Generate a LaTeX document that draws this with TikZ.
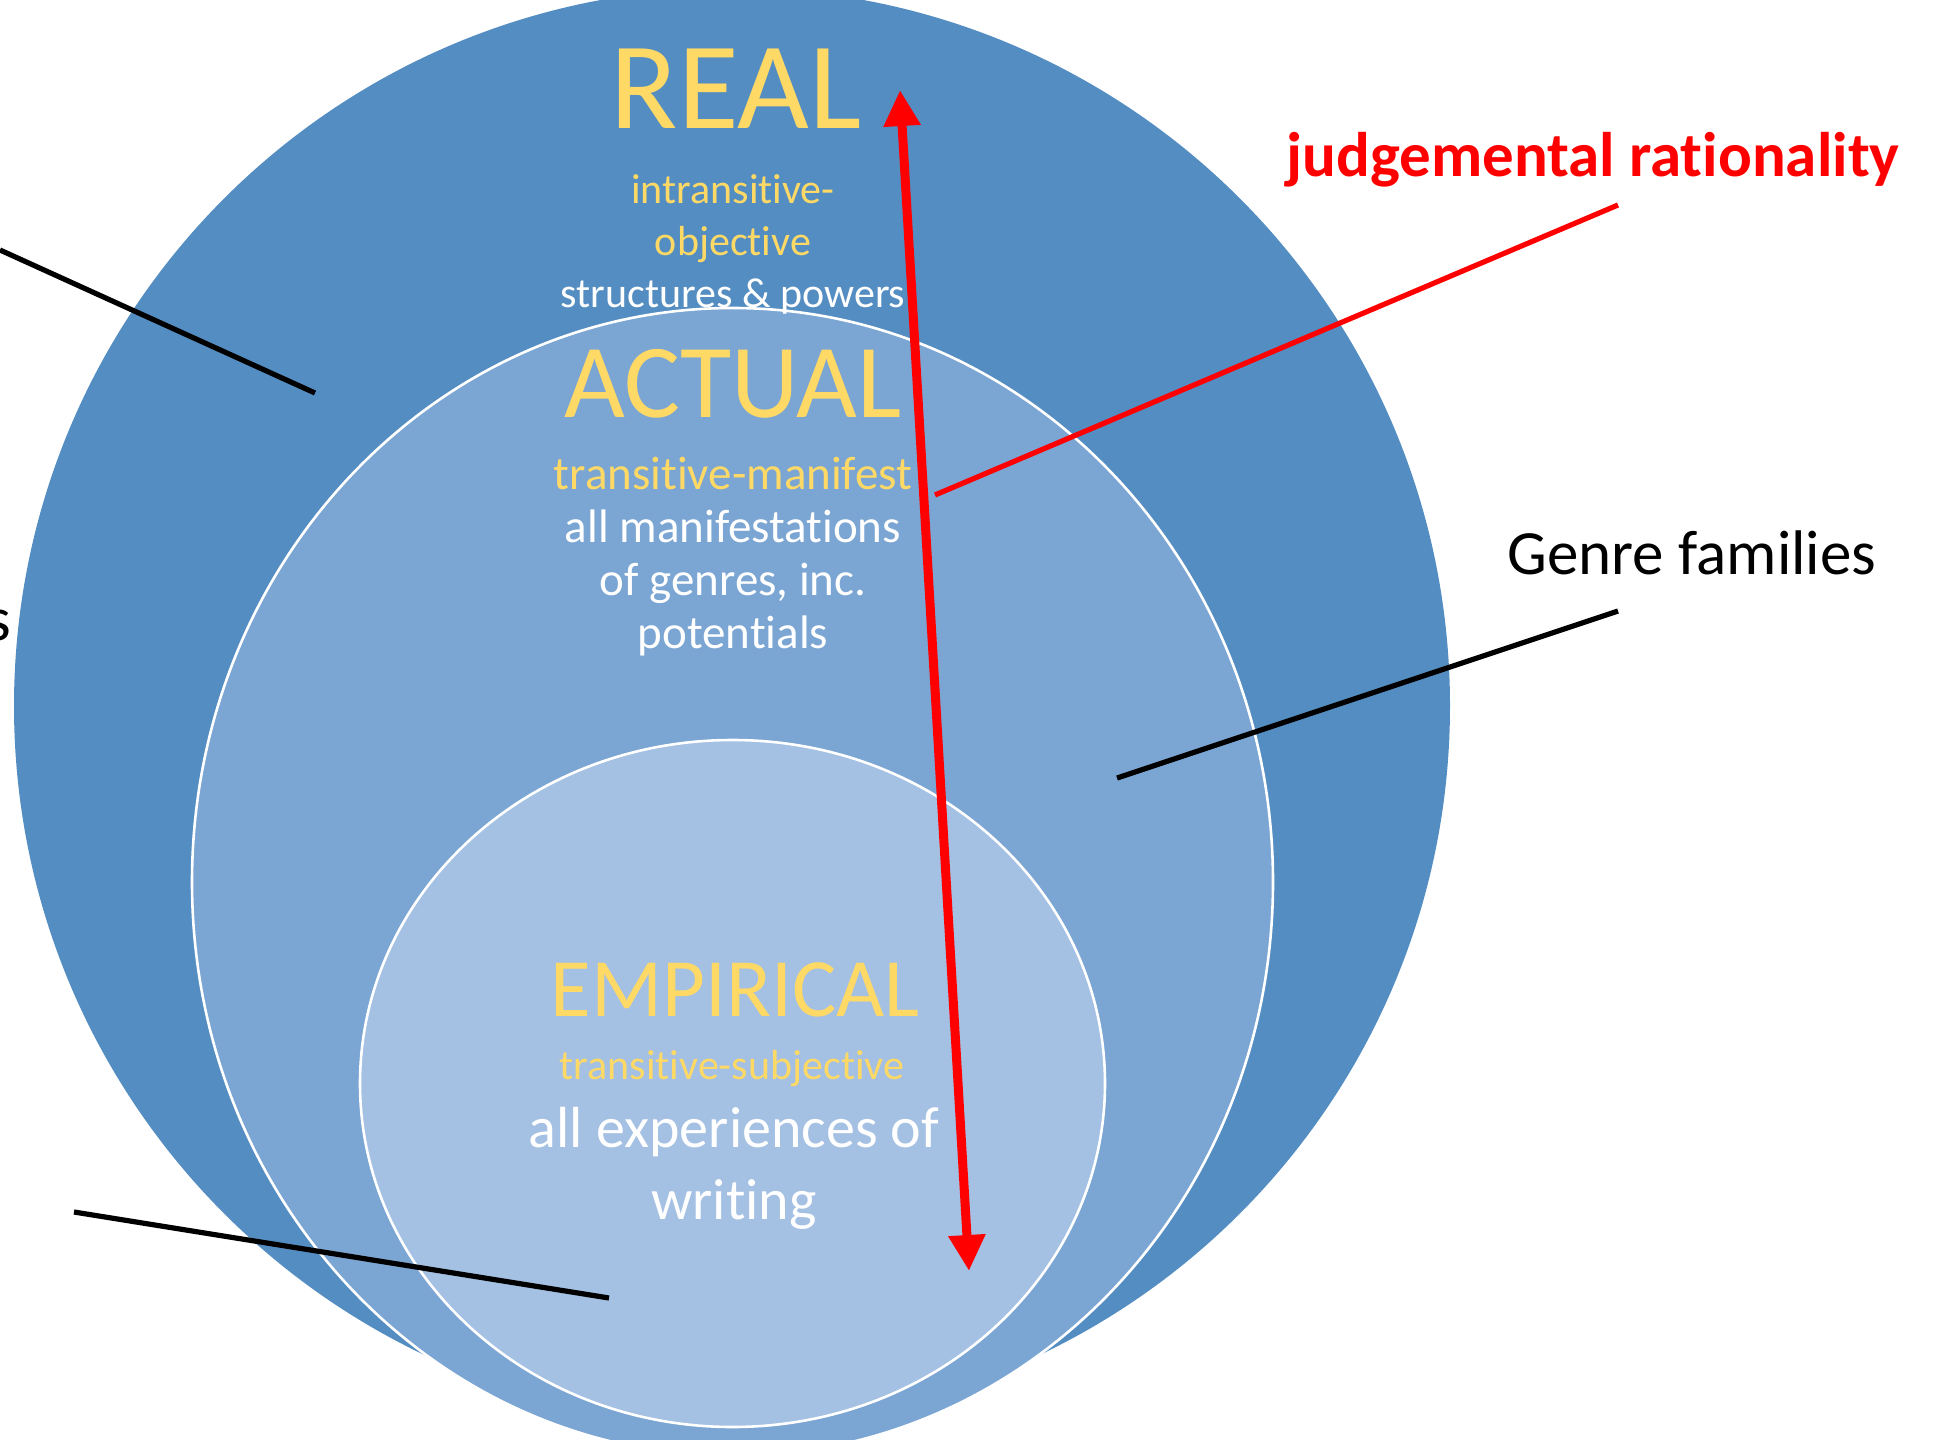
\documentclass[tikz,border=0pt]{standalone}
\usepackage{fontspec}
\setmainfont{Carlito}[Ligatures=NoCommon, RawFeature={-liga;-clig;-calt;-dlig}]
\usetikzlibrary{arrows.meta}
\definecolor{realblue}{HTML}{548DC1}
\definecolor{actualblue}{HTML}{7BA5D2}
\definecolor{empblue}{HTML}{A4C0E3}
\definecolor{gold}{HTML}{FFD966}
\begin{document}
\begin{tikzpicture}[x=0.5pt, y=-0.5pt,
  every node/.style={inner sep=0pt, anchor=base, align=center},
  zone/.style={draw=white, line width=1.3pt},
  head/.style={text=gold},
  leader/.style={draw=black, line width=2.6pt},
  judge/.style={draw=red, line width=2.6pt}]
\clip (0,0) rectangle (1934,1440);
\fill[realblue] (732,706) circle[radius=359pt];
\filldraw[zone, fill=actualblue] (732.5,882) ellipse[x radius=270.25pt, y radius=287pt];
\filldraw[zone, fill=empblue] (732.5,1083.5) ellipse[x radius=186.25pt, y radius=171.75pt];
\node[head, font=\fontsize{62}{74}\selectfont] (real) at (736,128) {REAL};
\node[font=\fontsize{21}{26}\selectfont] (realsub) at (733,307) {\textcolor{gold}{intransitive-}\\\textcolor{gold}{objective}\\\textcolor{white}{structures \& powers}};
\node[head, font=\fontsize{52.5}{63}\selectfont] (actual) at (733,417) {ACTUAL};
\node[font=\fontsize{23.5}{26.4}\selectfont] (actualsub) at (733,648) {\textcolor{gold}{transitive-manifest}\\\textcolor{white}{all manifestations}\\\textcolor{white}{of genres, inc.}\\\textcolor{white}{potentials}};
\node[head, font=\fontsize{41.5}{50}\selectfont] (empirical) at (735,1016) {EMPIRICAL};
\node[head, font=\fontsize{21}{26}\selectfont] (empsub) at (732,1079) {transitive-subjective};
\node[text=white, font=\fontsize{29}{36}\selectfont] (empbody) at (734,1219) {all experiences of\\writing};
\node[text=red, font=\bfseries\fontsize{31.5}{38}\selectfont] (judgement) at (1593,176) {judgemental rationality};
\node[font=\fontsize{31.5}{38}\selectfont] (genre) at (1692,574) {Genre families};
\node[font=\fontsize{31.5}{38}\selectfont, anchor=base east] (cut) at (12,640) {s};
\coordinate (realtip) at (0,250);
\coordinate (realend) at (315,393);
\coordinate (judgetip) at (1618,205);
\coordinate (judgeend) at (935,495);
\coordinate (genretip) at (1618,611);
\coordinate (genreend) at (1117,778);
\coordinate (emptip) at (74,1212);
\coordinate (empend) at (609,1298);
\coordinate (arrowtop) at (900,90);
\coordinate (arrowbottom) at (969,1271);
\draw[leader] (realtip) -- (realend);
\draw[judge] (judgetip) -- (judgeend);
\draw[leader] (genretip) -- (genreend);
\draw[leader] (emptip) -- (empend);
\draw[red, line width=4.5pt, {Triangle[length=18pt,width=17.5pt]}-{Triangle[length=18pt,width=17.5pt]}] (arrowtop) -- (arrowbottom);
\end{tikzpicture}
\end{document}
